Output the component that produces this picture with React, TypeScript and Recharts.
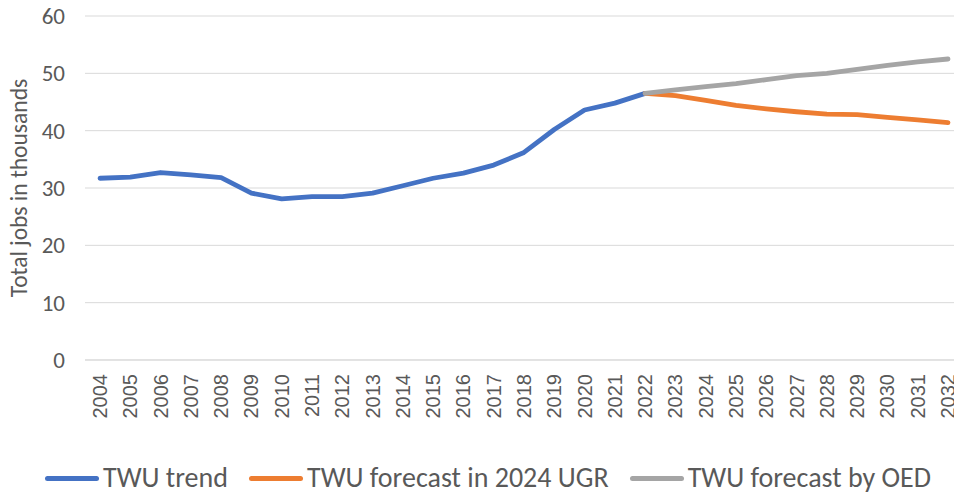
import React from "react";
import {
  LineChart,
  Line,
  XAxis,
  YAxis,
  CartesianGrid,
  Legend,
} from "recharts";

const YEARS = [
  "2004", "2005", "2006", "2007", "2008", "2009", "2010", "2011", "2012", "2013",
  "2014", "2015", "2016", "2017", "2018", "2019", "2020", "2021", "2022", "2023",
  "2024", "2025", "2026", "2027", "2028", "2029", "2030", "2031", "2032",
];

// TWU trend, 2004-2022
const TREND = [
  31.7, 31.9, 32.7, 32.3, 31.8, 29.1, 28.1, 28.5, 28.5, 29.1,
  30.4, 31.7, 32.6, 34.0, 36.2, 40.2, 43.6, 44.8, 46.5,
];

// TWU forecast in 2024 UGR, 2022-2032
const UGR = [46.5, 46.1, 45.3, 44.4, 43.8, 43.3, 42.9, 42.8, 42.3, 41.9, 41.4];

// TWU forecast by OED, 2022-2032
const OED = [46.5, 47.1, 47.7, 48.2, 48.9, 49.6, 50.0, 50.7, 51.4, 52.0, 52.5];

const Y_TICKS = [0, 10, 20, 30, 40, 50, 60];

const SERIES = [
  { key: "trend", name: "TWU trend", color: "#4472C4" },
  { key: "ugr", name: "TWU forecast in 2024 UGR", color: "#ED7D31" },
  { key: "oed", name: "TWU forecast by OED", color: "#A5A5A5" },
];

const FORECAST_START = YEARS.indexOf("2022");

const data = YEARS.map((year, i) => ({
  year,
  trend: i < TREND.length ? TREND[i] : null,
  ugr: i >= FORECAST_START ? UGR[i - FORECAST_START] : null,
  oed: i >= FORECAST_START ? OED[i - FORECAST_START] : null,
}));

const TEXT = "#595959";
const FONT = "Carlito, 'Liberation Sans', Arial, sans-serif";

/* x tick: vertical year labels */
const YearTick = ({ x, y, payload }: any) => (
  <text
    x={x}
    y={y}
    transform={`rotate(-90 ${x} ${y})`}
    textAnchor="end"
    dy="0.35em"
    fill={TEXT}
    fontSize={20}
    fontFamily="'Liberation Sans', Arial, sans-serif"
  >
    {payload.value}
  </text>
);

const YLabel = ({ viewBox }: any) => {
  const cx = 19;
  const cy = viewBox.y + viewBox.height / 2;
  return (
    <text
      x={cx}
      y={cy}
      transform={`rotate(-90 ${cx} ${cy})`}
      textAnchor="middle"
      dominantBaseline="central"
      fill={TEXT}
      fontSize={23.5}
      fontFamily={FONT}
    >
      Total jobs in thousands
    </text>
  );
};

const renderLegend = () => (
  <div
    style={{
      display: "flex",
      alignItems: "center",
      height: 34,
      lineHeight: "34px",
      paddingLeft: 45,
      fontFamily: FONT,
      fontSize: 28,
      color: TEXT,
      whiteSpace: "nowrap",
    }}
  >
    {SERIES.map((s) => (
      <div key={s.key} style={{ display: "flex", alignItems: "center", marginRight: 21 }}>
        <span
          style={{
            display: "inline-block",
            width: 54,
            height: 5,
            borderRadius: 3,
            background: s.color,
            marginRight: 4,
          }}
        />
        <span>{s.name}</span>
      </div>
    ))}
  </div>
);

export default function App() {
  return (
    <div style={{ width: 954, height: 495, background: "#fff" }}>
      <style>{`body{margin:0}`}</style>
      <LineChart
        width={954}
        height={495}
        data={data}
        margin={{ top: 16, right: 0, left: 0, bottom: 0 }}
      >
        <CartesianGrid vertical={false} stroke="#D9D9D9" strokeWidth={1} />
        <XAxis
          dataKey="year"
          interval={0}
          height={101}
          padding={{ left: 15, right: 6 }}
          tickLine={false}
          tickSize={0}
          tickMargin={14}
          axisLine={{ stroke: "#D9D9D9" }}
          tick={<YearTick />}
        />
        <YAxis
          domain={[0, 60]}
          ticks={Y_TICKS}
          width={85}
          axisLine={false}
          tickLine={false}
          tickSize={0}
          tickMargin={20}
          tick={{ fill: TEXT, fontSize: 23, fontFamily: FONT }}
          label={{ content: <YLabel /> } as any}
        />
        <Legend verticalAlign="bottom" height={34} content={renderLegend} />
        {SERIES.map((s) => (
          <Line
            key={s.key}
            type="linear"
            dataKey={s.key}
            name={s.name}
            stroke={s.color}
            strokeWidth={4.8}
            strokeLinecap="round"
            strokeLinejoin="round"
            dot={false}
            activeDot={false}
            connectNulls={false}
            isAnimationActive={false}
          />
        ))}
      </LineChart>
    </div>
  );
}
